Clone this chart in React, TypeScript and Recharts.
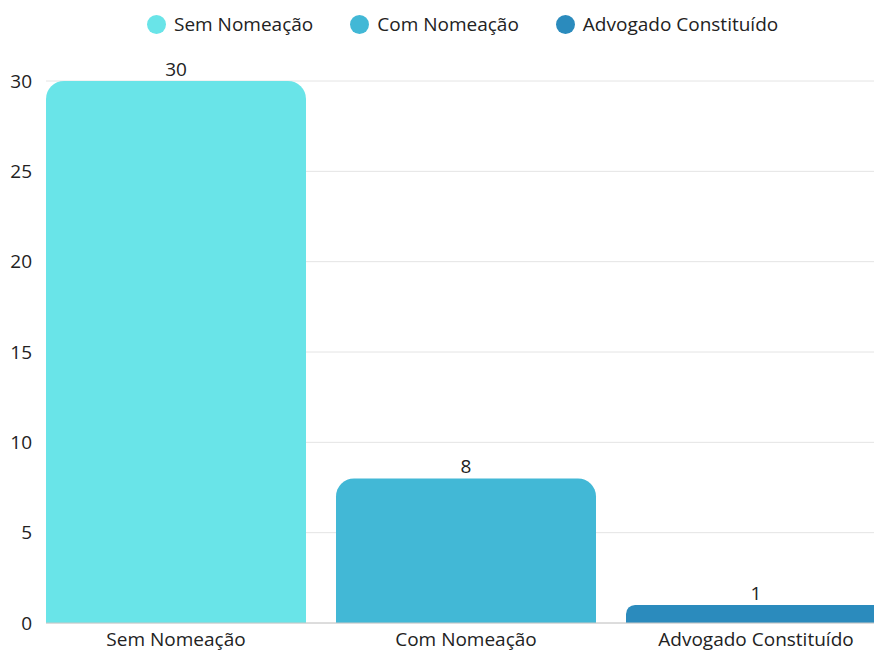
import React from 'react';
import { BarChart, Bar, XAxis, YAxis, CartesianGrid, Cell, LabelList } from 'recharts';

const categories = ['Sem Nomeação', 'Com Nomeação', 'Advogado Constituído'];
const counts = [30, 8, 1];
const barColors = ['#69E4E8', '#42B8D6', '#2B8BBD'];
const yTicks = [0, 5, 10, 15, 20, 25, 30];

const chartData = categories.map((name, i) => ({ name, value: counts[i] }));

const FONT = '"Open Sans", sans-serif';

// legend drawn as an overlay so it doesn't push the plot down
const ChartLegend = () => (
  <div
    style={{
      position: 'absolute',
      top: 12,
      left: 147,
      display: 'flex',
      gap: 37,
      fontFamily: FONT,
      fontSize: 19,
      color: '#222',
      lineHeight: '24px',
    }}
  >
    {categories.map((name, i) => (
      <div key={name} style={{ display: 'flex', alignItems: 'center' }}>
        <span
          style={{
            width: 19,
            height: 19,
            borderRadius: '50%',
            background: barColors[i],
            marginRight: 8,
            display: 'inline-block',
          }}
        />
        <span>{name}</span>
      </div>
    ))}
  </div>
);

const App: React.FC = () => {
  return (
    <div style={{ position: 'fixed', top: 0, left: 0, width: 874, height: 650, overflow: 'hidden', background: '#fff' }}>
      <BarChart
        width={901}
        height={650}
        data={chartData}
        margin={{ top: 81, right: 0, bottom: 0, left: 0 }}
        barCategoryGap={15}
      >
        <CartesianGrid vertical={false} stroke="#e4e4e4" />
        <XAxis
          dataKey="name"
          axisLine={{ stroke: '#c8c8c8' }}
          tickLine={false}
          tickSize={0}
          tickMargin={10}
          height={27}
          padding={{ left: -15, right: 0 }}
          interval={0}
          tick={{ fill: '#222', fontSize: 19, fontFamily: FONT }}
        />
        <YAxis
          domain={[0, 30]}
          ticks={yTicks}
          width={46}
          axisLine={false}
          tickLine={false}
          tickSize={0}
          tickMargin={14}
          tick={{ fill: '#222', fontSize: 19, fontFamily: FONT }}
        />
        <Bar dataKey="value" radius={[18, 18, 0, 0]} isAnimationActive={false}>
          {chartData.map((entry, i) => (
            <Cell key={entry.name} fill={barColors[i]} />
          ))}
          <LabelList dataKey="value" position="top" offset={5} fill="#222" fontSize={19} fontFamily={FONT} />
        </Bar>
      </BarChart>
      <ChartLegend />
    </div>
  );
};

export default App;
